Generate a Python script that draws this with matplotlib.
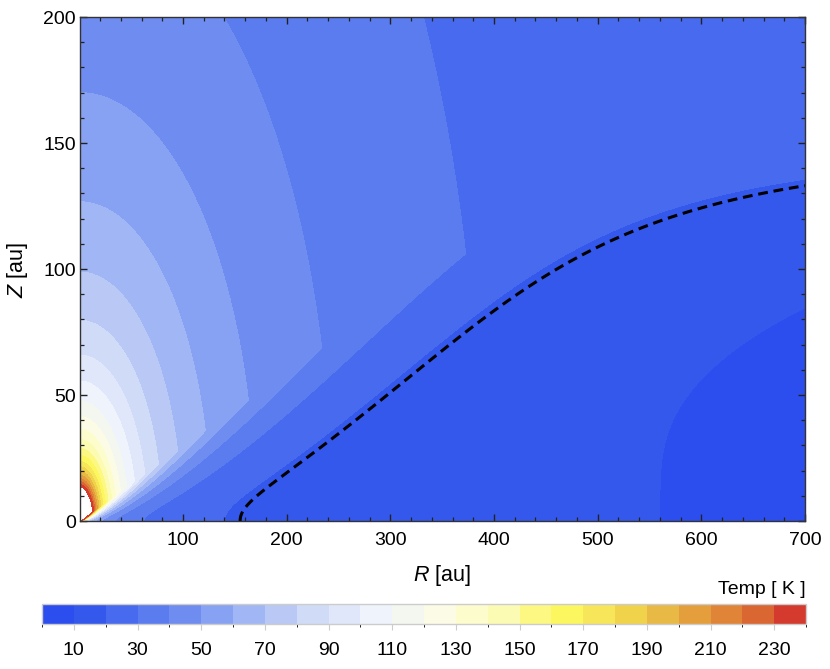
import numpy as np
import matplotlib
matplotlib.use("Agg")
import matplotlib.pyplot as plt
from matplotlib.colors import ListedColormap, BoundaryNorm

plt.rcParams['font.family'] = ['Liberation Sans', 'DejaVu Sans']
plt.rcParams['mathtext.fontset'] = 'custom'
plt.rcParams['mathtext.it'] = 'Liberation Sans:italic'
plt.rcParams['mathtext.rm'] = 'Liberation Sans'

# ---------------- chart values ----------------
temp_levels = list(range(0, 250, 10))              # K, contour bin edges
bin_colors = [
    "#2c4eee", "#3458ec", "#486aee", "#5a7cef", "#6f8cf1", "#88a2f3",
    "#a1b6f5", "#bac8f6", "#d0dbf8", "#e0e7fa", "#eef3fc", "#f4f7f0",
    "#fcfce6", "#fdfccd", "#fcfbb4", "#fcf882", "#fcf65f", "#f7e65a",
    "#f0d24b", "#e9b946", "#e49f3c", "#e08437", "#da6632", "#d43a2d",
]
cbar_ticks = [10, 30, 50, 70, 90, 110, 130, 150, 170, 190, 210, 230]
x_ticks = [100, 200, 300, 400, 500, 600, 700]
y_ticks = [0, 50, 100, 150, 200]

# temperature-structure parameters
t_mid_ref, r_mid_ref, q_mid = 20.0, 140.0, 0.5     # midplane: 20 K at 140 au
t_atm_ref, r_atm_ref, q_atm = 50.0, 170.0, 0.62    # atmosphere: 50 K at 170 au
zq_slope, zq_max, zq_sharp = 0.295, 139.0, 6.0     # height of the warm layer
p_inner, p_outer = 2.0, 5.0                        # vertical profile steepness
snow_temp = 19.0                                   # dashed contour

# ---------------- field ----------------
R = np.linspace(0.65, 700, 1400)
Z = np.linspace(0, 200, 801)
RR, ZZ = np.meshgrid(R, Z)
t_mid = t_mid_ref * (RR / r_mid_ref) ** (-q_mid)
t_atm = t_atm_ref * (np.hypot(RR, ZZ) / r_atm_ref) ** (-q_atm)
zq = zq_slope * RR / (1 + (zq_slope * RR / zq_max) ** zq_sharp) ** (1 / zq_sharp)
p = p_inner + (p_outer - p_inner) * (RR / 700.0) ** 2
s = np.clip(ZZ / zq, 0, 1)
T = t_mid + (t_atm - t_mid) * s ** p

# ---------------- figure ----------------
fig = plt.figure(figsize=(8.3, 6.69), dpi=100)
ax = fig.add_axes([80 / 830, 1 - 521 / 669, 725 / 830, 504 / 669])

cmap = ListedColormap(bin_colors)
norm = BoundaryNorm(temp_levels, cmap.N)
cs = ax.contourf(RR, ZZ, T, levels=temp_levels, cmap=cmap, norm=norm)
ax.contour(RR, ZZ, T, levels=[snow_temp], colors='black', linewidths=2.2,
           linestyles=[(0, (3.2, 1.9))])

ax.set_xlim(0.65, 700)
ax.set_ylim(0, 200)
ax.set_xticks(x_ticks)
ax.set_yticks(y_ticks)
ax.set_xticks(np.arange(20, 700, 20), minor=True)
ax.set_yticks(np.arange(0, 200, 10), minor=True)
ax.tick_params(which='both', direction='in', top=True, right=True,
               color='#222222', labelsize=14, labelcolor='black')
ax.tick_params(which='major', length=5, width=1.0)
ax.tick_params(which='minor', length=3, width=0.9)
ax.tick_params(axis='x', pad=8)
ax.tick_params(axis='y', pad=3)
for sp in ax.spines.values():
    sp.set_color('#333333')
    sp.set_linewidth(1.0)

fig.text(442 / 830, 1 - 576 / 669, r'$R$ [au]', ha='center', va='center', fontsize=15.5)
fig.text(18 / 830, 1 - 270 / 669, r'$Z$ [au]', ha='center', va='center',
         fontsize=15.5, rotation=90)

cax = fig.add_axes([42 / 830, 1 - 624 / 669, 764 / 830, 20 / 669])
cb = fig.colorbar(cs, cax=cax, orientation='horizontal', ticks=cbar_ticks)
cb.outline.set_edgecolor('#cccccc')
cb.outline.set_linewidth(1.0)
cax.tick_params(length=4, width=0.8, color='#cccccc', labelsize=14, pad=9)
cax.set_xticklabels([str(t) for t in cbar_ticks])
fig.text(806 / 830, 1 - 589 / 669, 'Temp [ K ]', ha='right', va='center', fontsize=14)

fig.savefig('out.png', dpi=100)
